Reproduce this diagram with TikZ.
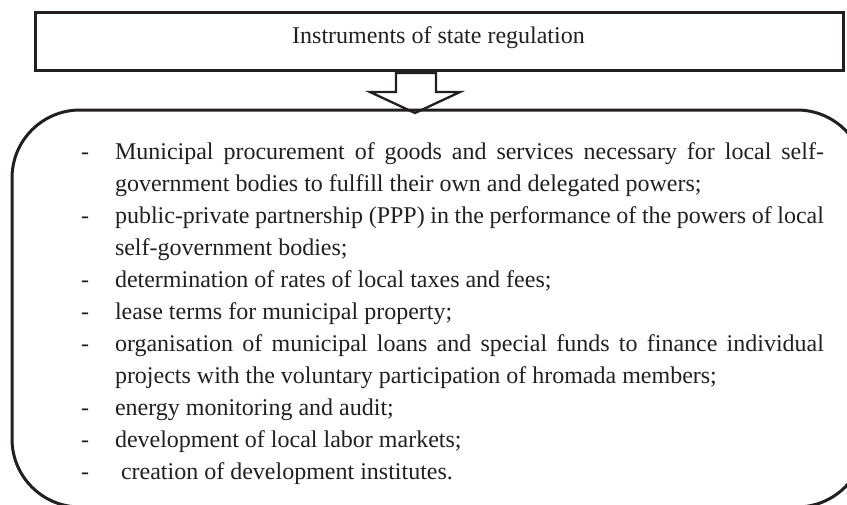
\documentclass[tikz,border=0pt]{standalone}
\usepackage{fontspec}
\setmainfont{Liberation Serif}
\definecolor{ink}{RGB}{35,31,32}
\tikzset{
  frame/.style={draw=ink, line width=3pt},
  blockarrow/.style={draw=ink, line width=2.3pt, line join=miter},
  txt/.style={anchor=base west, inner sep=0pt, outer sep=0pt, text=ink,
              font=\fontsize{24pt}{32pt}\selectfont},
  bullet/.style={txt}
}
% a justified line of the list, spread to the full text width
\newcommand{\jline}[1]{\makebox[709pt][s]{#1}}

\begin{document}
\begin{tikzpicture}[x=1pt,y=-1pt]
\useasboundingbox (0,0) rectangle (847,504);
\clip (0,0) rectangle (847,504);

% heading box
\draw[frame] (35,12) rectangle (843,70);
\node[txt, anchor=base] (title) at (438.5,43) {Instruments of state regulation};

% list box (runs past the right and bottom edges)
\draw[frame, rounded corners=68pt] (12,110) rectangle (865,507);

% hollow block arrow between the boxes
\draw[blockarrow] (396,73) -- (436,73) -- (436,92) -- (460,92) -- (415,113)
  -- (370,92) -- (396,92) -- cycle;

% list items
\node[bullet] (d1) at (81,159) {-};
\node[txt] (l1) at (115,159) {\jline{Municipal procurement of goods and services necessary for local self-}};
\node[txt] (l2) at (115,191) {government bodies to fulfill their own and delegated powers;};
\node[bullet] (d2) at (81,223) {-};
\node[txt] (l3) at (115,223) {\jline{public-private partnership (PPP) in the performance of the powers of local}};
\node[txt] (l4) at (115,255) {self-government bodies;};
\node[bullet] (d3) at (81,287) {-};
\node[txt] (l5) at (115,287) {determination of rates of local taxes and fees;};
\node[bullet] (d4) at (81,319) {-};
\node[txt] (l6) at (115,319) {lease terms for municipal property;};
\node[bullet] (d5) at (81,351) {-};
\node[txt] (l7) at (115,351) {\jline{organisation of municipal loans and special funds to finance individual}};
\node[txt] (l8) at (115,383) {projects with the voluntary participation of hromada members;};
\node[bullet] (d6) at (81,415) {-};
\node[txt] (l9) at (115,415) {energy monitoring and audit;};
\node[bullet] (d7) at (81,447) {-};
\node[txt] (l10) at (115,447) {development of local labor markets;};
\node[bullet] (d8) at (81,479) {-};
\node[txt] (l11) at (121,479) {creation of development institutes.};
\end{tikzpicture}
\end{document}
